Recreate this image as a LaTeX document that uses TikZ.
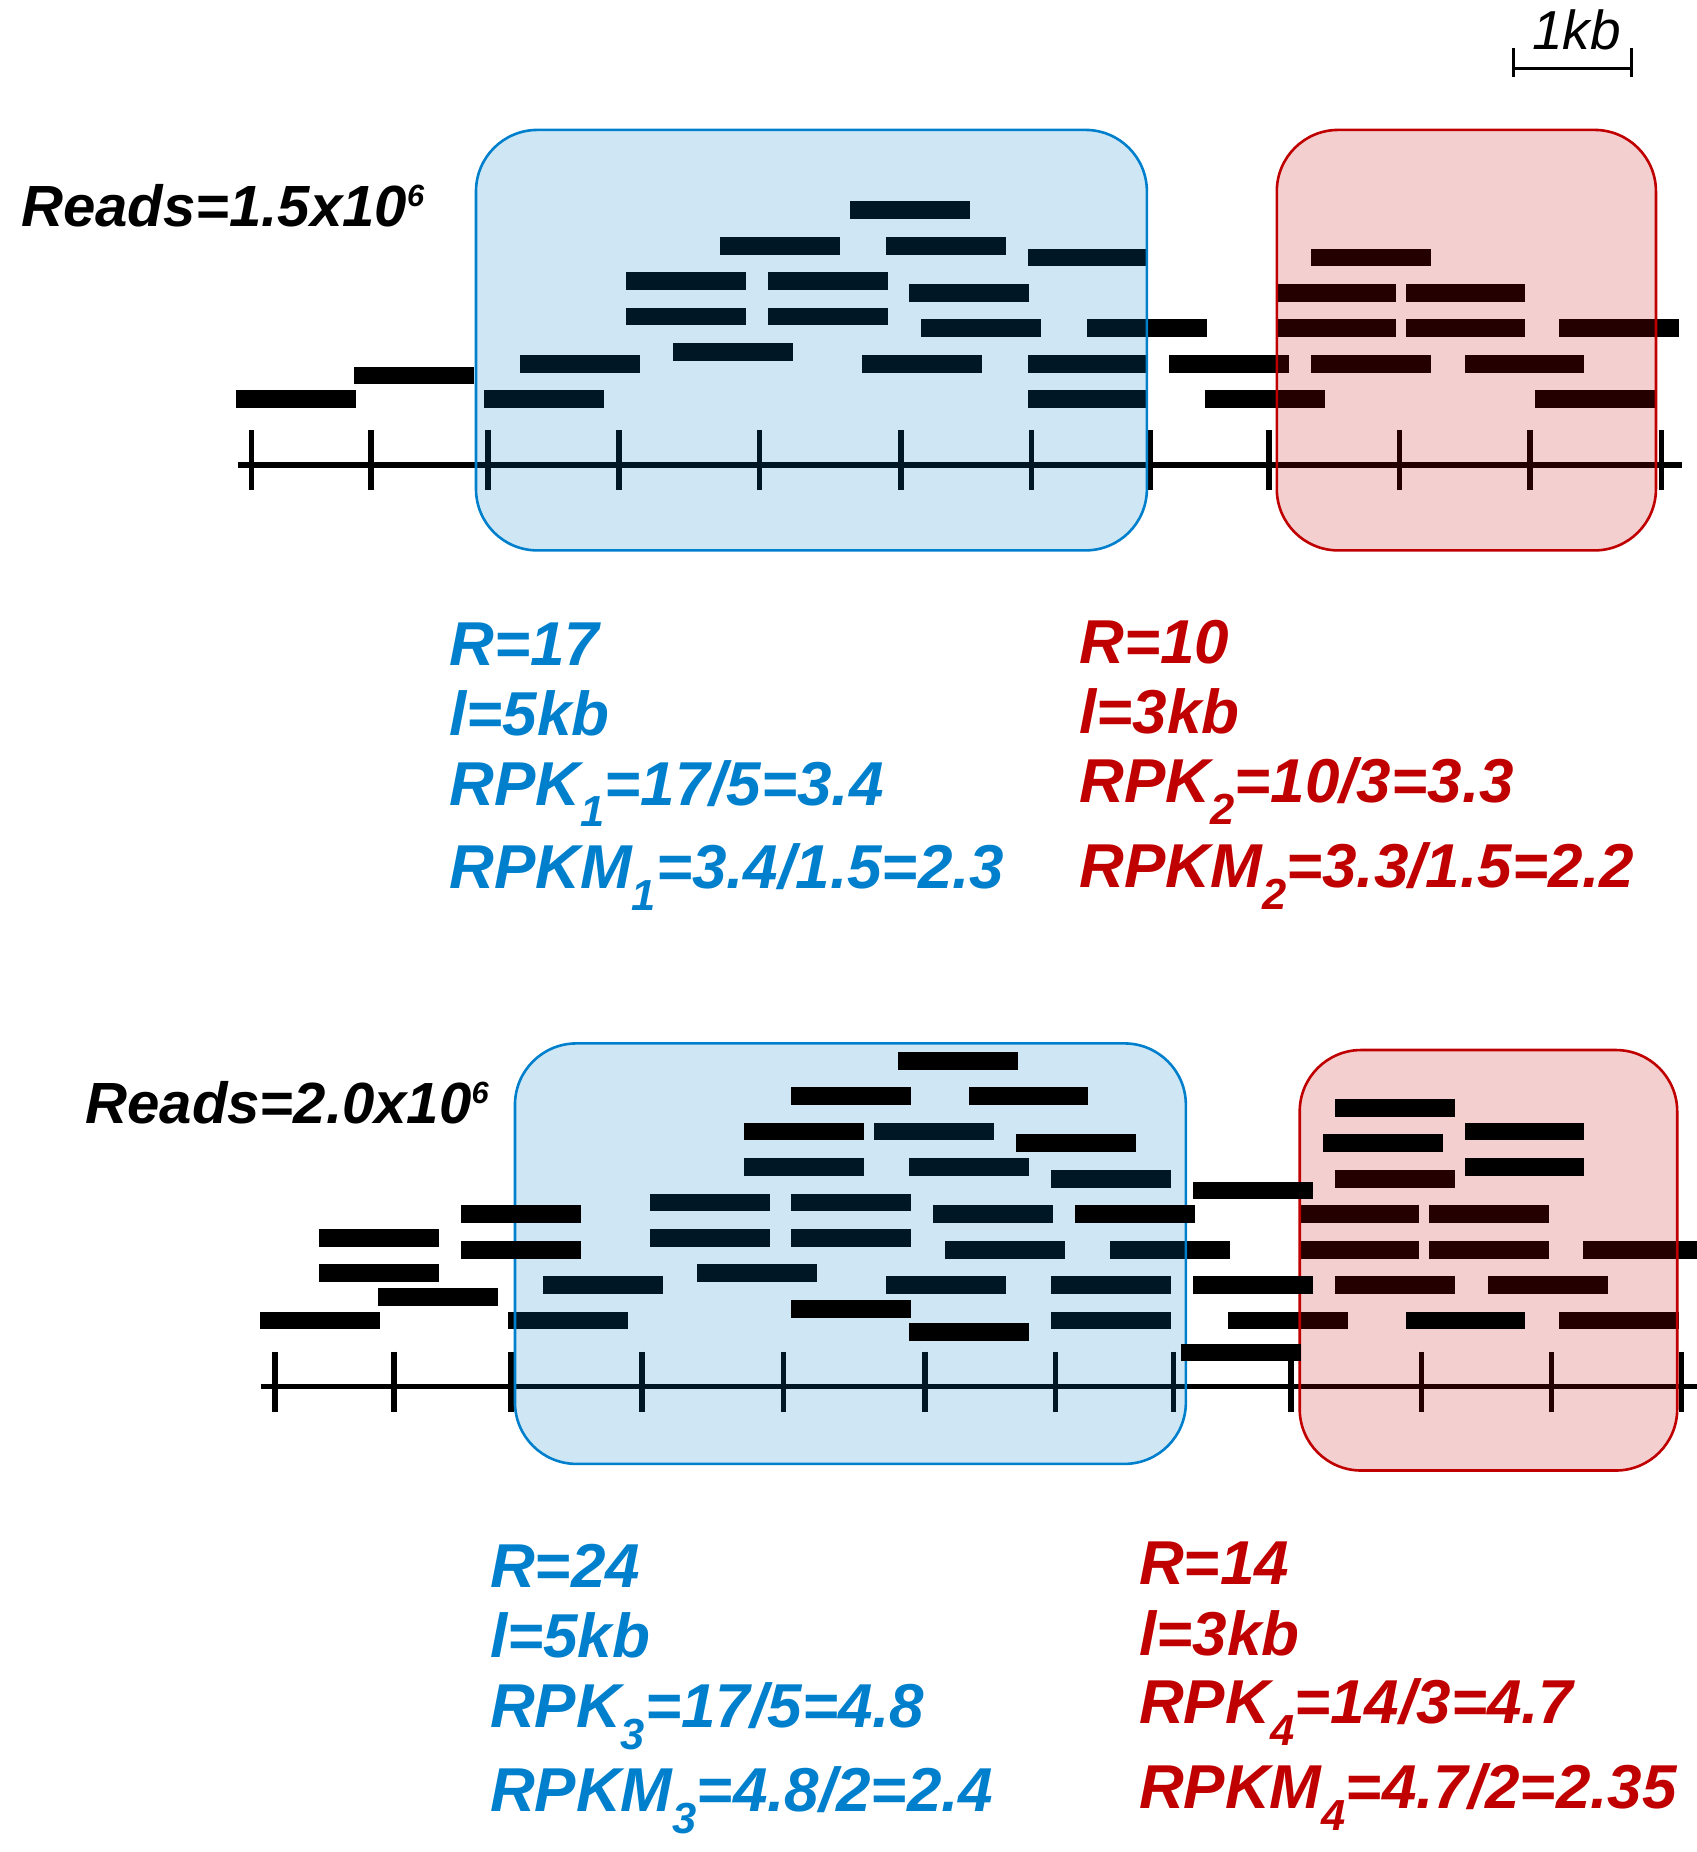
\documentclass[tikz,border=0pt]{standalone}
\usepackage{fontspec}
\setmainfont{Liberation Sans}
\definecolor{geneblue}{RGB}{0,128,204}
\definecolor{genered}{RGB}{192,0,0}
\newcommand{\lowsub}[1]{\raisebox{-0.35em}{\fontsize{18.4}{20}\selectfont #1}}
\newcommand{\highsup}[1]{\raisebox{0.34em}{\fontsize{13}{15}\selectfont #1}}

\begin{document}
\begin{tikzpicture} [x=0.5pt, y=-0.5pt,
			read/.style={fill=black},
			axis/.style={line width=2.3pt},
			gene/.style={line width=1.1pt, rounded corners=26pt, fill opacity=0.19},
			bluegene/.style={gene, draw=geneblue, fill=geneblue},
			redgene/.style={gene, draw=genered, fill=genered},
			calc/.style={anchor=base west, inner sep=0pt,
				font=\fontsize{26.25}{30}\selectfont\bfseries\itshape},
			total/.style={anchor=base west, inner sep=0pt,
				font=\fontsize{24.6}{28}\selectfont\bfseries\itshape},
		]
		\useasboundingbox (0,0) rectangle (1436,1568);

		% Scale bar
		\draw [line width=1.4pt] (1281.2,57.8) -- (1381.6,57.8);
		\draw [line width=1.2pt] (1281.2,40.9) -- (1281.2,65.5);
		\draw [line width=1.2pt] (1381.6,40.9) -- (1381.6,65.5);
		\node (kb) [anchor=base west, inner sep=0pt,
			font=\fontsize{23.25}{28}\selectfont\itshape] at (1296.7,41.8) {1kb};

		% Reads below the genes
		\foreach \x/\y in {200/338, 300/318, 410/338, 440/308, 530/238, 530/268,
				570/298, 610/208, 650/238, 650/268, 720/178, 730/308, 750/208,
				770/248, 780/278, 870/218, 870/308, 870/338, 920/278, 990/308,
				1020/338, 1110/218, 1080/248, 1190/248, 1080/278, 1190/278,
				1320/278, 1110/308, 1240/308, 1300/338,
				740/958, 630/988, 770/988, 890/998, 550/1018, 670/1018, 790/1028,
				270/1048, 550/1048, 670/1048, 800/1058, 940/1058, 270/1078,
				590/1078, 460/1088, 750/1088, 890/1088, 320/1098, 220/1118,
				430/1118, 890/1118, 1040/1118, 1130/998, 1100/1028, 1210/1028,
				1100/1058, 1210/1058, 1340/1058, 1130/1088, 1260/1088, 1320/1118}
			\fill [read] (\x,\y-7.5) rectangle ++(101.5,15);

		% Axes
		\draw [axis] (201.5,393.7) -- (1424,393.7);
		\foreach \t in {213,314,413,524,643,763,873.5,974,1074.5,1185,1295.5,1406.5}
			\draw [axis] (\t,364.1) -- (\t,414.9);
		\draw [axis] (220.8,1174) -- (1440,1174);
		\foreach \t in {233,333.7,432.5,543.4,663.3,783,893.7,993.3,1093,1203.7,1313.4,1423.5}
			\draw [axis] (\t,1144.4) -- (\t,1195.2);

		% Genes
		\draw [bluegene] (403,110) rectangle (971,466);
		\draw [redgene] (1081,110) rectangle (1402,466);
		\draw [bluegene] (436,883.4) rectangle (1004,1239.4);
		\draw [redgene] (1100.4,889) rectangle (1420,1245);

		% Reads above the genes
		\foreach \x/\y in {760/898, 670/928, 820/928, 630/958, 860/968, 1010/1008,
				390/1028, 910/1028, 390/1058, 1010/1088, 670/1108, 770/1128,
				1000/1145, 1130/938, 1240/958, 1120/968, 1240/988, 1190/1118}
			\fill [read] (\x,\y-7.5) rectangle ++(101.5,15);

		% Totals
		\node (total1) [total] at (17.5,191.9) {Reads=1.5x10\highsup{6}};
		\node (total2) [total] at (72,951.1) {Reads=2.0x10\highsup{6}};

		% Gene 1
		\node (r1) [calc, geneblue] at (380,563.6) {R=17};
		\node (l1) [calc, geneblue] at (380,623.1) {l=5kb};
		\node (rpk1) [calc, geneblue] at (380,681.6) {RPK\lowsub{1}=17/5=3.4};
		\node (rpkm1) [calc, geneblue] at (380,752.1) {RPKM\lowsub{1}=3.4/1.5=2.3};
		% Gene 2
		\node (r2) [calc, genered] at (913.5,561.6) {R=10};
		\node (l2) [calc, genered] at (913.5,620.9) {l=3kb};
		\node (rpk2) [calc, genered] at (913.5,679.3) {RPK\lowsub{2}=10/3=3.3};
		\node (rpkm2) [calc, genered] at (913.5,751.3) {RPKM\lowsub{2}=3.3/1.5=2.2};
		% Gene 3
		\node (r3) [calc, geneblue] at (414.5,1344.3) {R=24};
		\node (l3) [calc, geneblue] at (414.5,1403.5) {l=5kb};
		\node (rpk3) [calc, geneblue] at (414.5,1462.8) {RPK\lowsub{3}=17/5=4.8};
		\node (rpkm3) [calc, geneblue] at (414.5,1534) {RPKM\lowsub{3}=4.8/2=2.4};
		% Gene 4
		\node (r4) [calc, genered] at (964,1341.2) {R=14};
		\node (l4) [calc, genered] at (964,1401.3) {l=3kb};
		\node (rpk4) [calc, genered] at (964,1459.4) {RPK\lowsub{4}=14/3=4.7};
		\node (rpkm4) [calc, genered] at (964,1531.1) {RPKM\lowsub{4}=4.7/2=2.35};
	\end{tikzpicture}
\end{document}
